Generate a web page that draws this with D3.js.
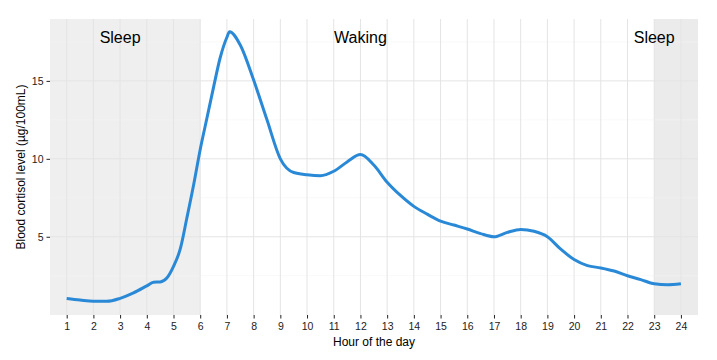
<!DOCTYPE html>
<html>
<head>
<meta charset="utf-8">
<script src="https://cdn.jsdelivr.net/npm/d3@7"></script>
<style>
  html, body { margin: 0; padding: 0; background: #fff; }
  svg { display: block; font-family: "Liberation Sans", Arial, sans-serif; }
</style>
</head>
<body>
<svg id="chart" width="717" height="360"></svg>
<script>
// ---- data ----
const hours = [1, 1.5, 2, 2.5, 3, 3.5, 4, 4.25, 4.5, 4.75, 5, 5.25, 5.5, 5.75, 6, 6.25, 6.5, 6.75, 7, 7.1, 7.5, 8, 8.5, 9, 9.5, 10, 10.5, 11, 11.5, 12, 12.5, 13, 13.5, 14, 14.5, 15, 15.5, 16, 16.5, 17, 17.5, 18, 18.5, 19, 19.5, 20, 20.5, 21, 21.5, 22, 22.5, 23, 23.5, 24];
const cortisol = [1.04, 0.94, 0.86, 0.86, 1.05, 1.4, 1.85, 2.08, 2.1, 2.35, 3.1, 4.2, 6.2, 8.3, 10.6, 12.6, 14.6, 16.5, 17.8, 18.15, 17.3, 15.05, 12.5, 10.0, 9.12, 8.98, 8.92, 9.2, 9.8, 10.27, 9.6, 8.5, 7.65, 6.95, 6.45, 6.0, 5.75, 5.5, 5.2, 5.0, 5.28, 5.47, 5.35, 5.0, 4.2, 3.54, 3.15, 3.0, 2.8, 2.5, 2.25, 1.98, 1.92, 1.98];
const xTicks = d3.range(1, 25);
const yTicks = [5, 10, 15];
const yMinor = [2.5, 7.5, 12.5, 17.5];
const sleepPeriods = [[-Infinity, 6], [23, Infinity]];
const phaseLabels = [
  { hour: 3, text: "Sleep" },
  { hour: 12, text: "Waking" },
  { hour: 23, text: "Sleep" }
];
const xTitle = "Hour of the day";
const yTitle = "Blood cortisol level (\u00b5g/100mL)";

// ---- layout ----
const svg = d3.select("#chart");
const panel = { left: 50, right: 698, top: 19, bottom: 315 };

const x = d3.scaleLinear().domain([0.375, 24.64]).range([panel.left, panel.right]);
const y = d3.scaleLinear().domain([-0.02, 18.97]).range([panel.bottom, panel.top]);

const g = svg.append("g");

// sleep shading
const shadeFill = ["#efefef", "#ebebeb"];
g.selectAll("rect.sleep").data(sleepPeriods).join("rect")
  .attr("class", "sleep")
  .attr("x", d => Math.max(panel.left, isFinite(d[0]) ? x(d[0]) : panel.left))
  .attr("width", d => {
    const a = isFinite(d[0]) ? x(d[0]) : panel.left;
    const b = isFinite(d[1]) ? x(d[1]) : panel.right;
    return b - a;
  })
  .attr("y", panel.top)
  .attr("height", panel.bottom - panel.top)
  .attr("fill", (d, i) => shadeFill[i]);

// minor horizontal grid
g.selectAll("line.ymin").data(yMinor).join("line")
  .attr("x1", panel.left).attr("x2", panel.right)
  .attr("y1", d => y(d)).attr("y2", d => y(d))
  .attr("stroke", "#f3f3f3").attr("stroke-width", 0.6);

// major grid
g.selectAll("line.ymaj").data(yTicks).join("line")
  .attr("x1", panel.left).attr("x2", panel.right)
  .attr("y1", d => y(d)).attr("y2", d => y(d))
  .attr("stroke", "#e4e4e4").attr("stroke-width", 1);
g.selectAll("line.xmaj").data(xTicks).join("line")
  .attr("y1", panel.top).attr("y2", panel.bottom)
  .attr("x1", d => x(d)).attr("x2", d => x(d))
  .attr("stroke", "#e4e4e4").attr("stroke-width", 1);

// axes
const xAxis = d3.axisBottom(x).tickValues(xTicks).tickSize(3.5).tickPadding(4).tickFormat(d3.format("d"));
const yAxis = d3.axisLeft(y).tickValues(yTicks).tickSize(3.5).tickPadding(3).tickFormat(d3.format("d"));

const gx = svg.append("g").attr("transform", `translate(0,${panel.bottom})`).call(xAxis);
const gy = svg.append("g").attr("transform", `translate(${panel.left},0)`).call(yAxis);
[gx, gy].forEach(a => {
  a.select(".domain").remove();
  a.selectAll(".tick line").attr("stroke", "#222").attr("stroke-width", 1);
  a.selectAll(".tick text").attr("fill", "#222").style("font-size", "10.5px")
    .style("font-family", "'Liberation Sans', Arial, sans-serif");
});

// line
const line = d3.line().x((d, i) => x(hours[i])).y(d => y(d)).curve(d3.curveMonotoneX);
svg.append("path").datum(cortisol)
  .attr("d", line)
  .attr("fill", "none")
  .attr("stroke", "#2a89d6")
  .attr("stroke-width", 3)
  .attr("stroke-linejoin", "round");

// phase labels
svg.selectAll("text.phase").data(phaseLabels).join("text")
  .attr("class", "phase")
  .attr("x", d => x(d.hour))
  .attr("y", 42.5)
  .attr("text-anchor", "middle")
  .style("font-size", "16px")
  .attr("fill", "#000")
  .text(d => d.text);

// axis titles
svg.append("text")
  .attr("x", (panel.left + panel.right) / 2)
  .attr("y", 346)
  .attr("text-anchor", "middle")
  .style("font-size", "12px")
  .attr("fill", "#000")
  .text(xTitle);

svg.append("text")
  .attr("transform", `translate(25,${(panel.top + panel.bottom) / 2}) rotate(-90)`)
  .attr("text-anchor", "middle")
  .style("font-size", "12px")
  .attr("fill", "#000")
  .text(yTitle);
</script>
</body>
</html>
